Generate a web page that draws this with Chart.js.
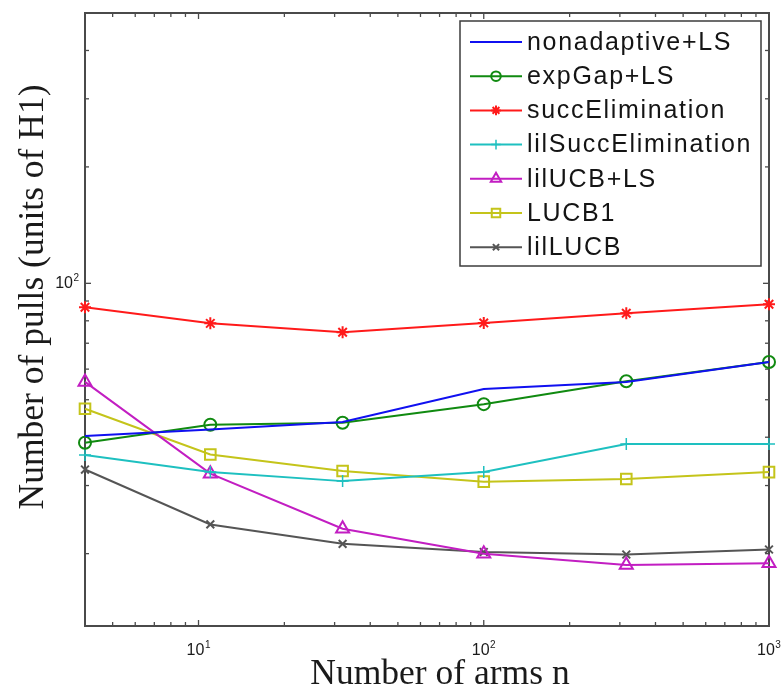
<!DOCTYPE html>
<html><head><meta charset="utf-8">
<script src="https://cdn.jsdelivr.net/npm/chart.js@4.4.1/dist/chart.umd.min.js"></script>
<style>html,body{margin:0;padding:0;background:#fff;}#wrap{width:782px;height:694px;}</style>
</head><body><div id="wrap"><canvas id="c" width="782" height="694"></canvas></div>
<script>
// ---- data ----
const arms = [4, 11, 32, 100, 316, 1000];
const nonadaptiveLS      = [40.3, 41.9, 43.8, 53.3, 55.6, 62.6];
const expGapLS           = [38.7, 43.1, 43.6, 48.7, 55.8, 62.6];
const succElimination    = [86.7, 78.8, 74.7, 79.0, 83.7, 88.3];
const lilSuccElimination = [36.0, 32.5, 30.8, 32.5, 38.4, 38.4];
const lilUCBLS           = [55.6, 32.2, 23.2, 20.0, 18.7, 18.9];
const LUCB1              = [47.4, 36.1, 32.7, 30.7, 31.2, 32.5];
const lilLUCB            = [33.0, 23.8, 21.2, 20.2, 19.9, 20.5];
const seriesNames = ['nonadaptive+LS','expGap+LS','succElimination','lilSuccElimination','lilUCB+LS','LUCB1','lilLUCB'];
// tick labels: base and exponent
const xTickValues = [10, 100, 1000];
const xTickExps   = ['1', '2', '3'];
const yTickValues = [100];
const yTickExps   = ['2'];
const xRange = [4, 1000];
const yRange = [13, 500];
const xTitle = 'Number of arms n';
const yTitle = 'Number of pulls (units of H1)';

const seriesValues = [nonadaptiveLS, expGapLS, succElimination, lilSuccElimination, lilUCBLS, LUCB1, lilLUCB];
const styles = [
  {color:'#1010f0', pointStyle:'circle', r:0, bw:2},
  {color:'#108a10', pointStyle:'circle', r:6, bw:2},
  {color:'#ff1a1a', pointStyle:'star', r:6, bw:2},
  {color:'#1ec0c0', pointStyle:'cross', r:6, bw:1.5},
  {color:'#c21ec2', pointStyle:'triangle', r:7.5, bw:2},
  {color:'#c4c41a', pointStyle:'rect', r:7.5, bw:2},
  {color:'#555555', pointStyle:'crossRot', r:5.5, bw:2}
];

const datasets = seriesNames.map((name, i) => ({
  label: name,
  data: arms.map((n, k) => ({x: n, y: seriesValues[i][k]})),
  borderColor: styles[i].color,
  borderWidth: 2,
  pointStyle: styles[i].pointStyle,
  pointRadius: styles[i].r,
  pointHoverRadius: styles[i].r,
  pointBorderColor: styles[i].color,
  pointBackgroundColor: 'rgba(0,0,0,0)',
  pointBorderWidth: styles[i].bw,
  tension: 0,
  fill: false,
  clip: false
}));

function isNice(v){
  const e = Math.pow(10, Math.floor(Math.log10(v) + 1e-9));
  const m = v / e;
  return Math.abs(m - Math.round(m)) < 1e-6;
}
function isMajor(v){ const l = Math.log10(v); return Math.abs(l - Math.round(l)) < 1e-9; }

const SANS = '"Liberation Sans", Arial, sans-serif';
function powLabel(ctx, exp, px, baseY, align){
  ctx.font = '16px ' + SANS;
  const w1 = ctx.measureText('10').width;
  ctx.font = '10px ' + SANS;
  const w2 = ctx.measureText(exp).width;
  const total = w1 + w2 + 0.5;
  const start = align === 'right' ? px - total : px - total / 2;
  ctx.textAlign = 'left';
  ctx.textBaseline = 'alphabetic';
  ctx.font = '16px ' + SANS;
  ctx.fillText('10', start, baseY);
  ctx.font = '10px ' + SANS;
  ctx.fillText(exp, start + w1 + 0.5, baseY - 7);
}

const framePlugin = {
  id: 'frame',
  beforeDatasetsDraw(chart){
    const {ctx, chartArea: a, scales: {x, y}} = chart;
    ctx.save();
    ctx.strokeStyle = '#4a4a4a';
    ctx.lineWidth = 1.3;
    const seg = (x1,y1,x2,y2)=>{ctx.beginPath();ctx.moveTo(x1,y1);ctx.lineTo(x2,y2);ctx.stroke();};
    x.ticks.forEach(t => {
      if (!isNice(t.value) || t.value <= xRange[0] || t.value >= xRange[1]) return;
      const px = x.getPixelForValue(t.value);
      const L = isMajor(t.value) ? 6 : 4;
      seg(px, a.bottom, px, a.bottom - L);
      seg(px, a.top, px, a.top + L);
    });
    y.ticks.forEach(t => {
      if (!isNice(t.value) || t.value <= yRange[0] || t.value >= yRange[1]) return;
      const py = y.getPixelForValue(t.value);
      const L = isMajor(t.value) ? 6 : 4;
      seg(a.left, py, a.left + L, py);
      seg(a.right, py, a.right - L, py);
    });
    ctx.lineWidth = 2;
    ctx.strokeRect(a.left, a.top, a.right - a.left, a.bottom - a.top);
    ctx.restore();
  },
  afterDraw(chart){
    const {ctx, chartArea: a, scales: {x, y}} = chart;
    ctx.save();
    ctx.fillStyle = '#1a1a1a';
    xTickValues.forEach((v, i) => powLabel(ctx, xTickExps[i], x.getPixelForValue(v), 655, 'center'));
    yTickValues.forEach((v, i) => powLabel(ctx, yTickExps[i], a.left - 6, y.getPixelForValue(v) + 5, 'right'));
    ctx.font = '35.5px "Liberation Serif", "DejaVu Serif", serif';
    ctx.textAlign = 'center';
    ctx.textBaseline = 'alphabetic';
    ctx.fillText(xTitle, 440, 684);
    ctx.translate(43, 297);
    ctx.rotate(-Math.PI/2);
    ctx.fillText(yTitle, 0, 0);
    ctx.restore();
  }
};

function drawMarker(ctx, style, r, x, y){
  if (!r) return;
  if (Chart.helpers && Chart.helpers.drawPoint) {
    Chart.helpers.drawPoint(ctx, {pointStyle: style, radius: r, rotation: 0, borderWidth: 1}, x, y);
  }
}

const legendPlugin = {
  id: 'boxLegend',
  afterDatasetsDraw(chart){
    const ctx = chart.ctx;
    const bx = 460, by = 21, bw = 301, bh = 245;
    ctx.save();
    ctx.fillStyle = '#ffffff';
    ctx.fillRect(bx, by, bw, bh);
    ctx.strokeStyle = '#3c3c3c';
    ctx.lineWidth = 1.5;
    ctx.strokeRect(bx, by, bw, bh);
    ctx.font = '25px ' + SANS;
    try { ctx.letterSpacing = '1.7px'; } catch(e) {}
    ctx.textBaseline = 'middle';
    ctx.textAlign = 'left';
    chart.data.datasets.forEach((ds, i) => {
      const yy = 42 + i * 34.2;
      ctx.strokeStyle = ds.borderColor;
      ctx.lineWidth = 2;
      ctx.beginPath(); ctx.moveTo(470, yy); ctx.lineTo(522, yy); ctx.stroke();
      ctx.fillStyle = 'rgba(0,0,0,0)';
      ctx.lineWidth = ds.pointBorderWidth;
      drawMarker(ctx, ds.pointStyle, ds.pointRadius ? ds.pointRadius * 0.8 : 0, 496, yy);
      ctx.fillStyle = '#141414';
      ctx.fillText(ds.label, 527, yy + 1);
    });
    ctx.restore();
  }
};

new Chart(document.getElementById('c'), {
  type: 'line',
  data: {datasets},
  options: {
    responsive: false,
    animation: false,
    events: [],
    layout: {padding: {top: 13, right: 13, left: 0, bottom: 0}},
    plugins: {legend: {display: false}, tooltip: {enabled: false}, title: {display: false}},
    scales: {
      x: {
        type: 'logarithmic', min: xRange[0], max: xRange[1],
        grid: {display: false, drawTicks: false},
        border: {display: false},
        title: {display: false},
        ticks: {display: false, autoSkip: false},
        afterFit(s){ s.height = 68; s.paddingLeft = 0; s.paddingRight = 0; }
      },
      y: {
        type: 'logarithmic', min: yRange[0], max: yRange[1],
        grid: {display: false, drawTicks: false},
        border: {display: false},
        title: {display: false},
        ticks: {display: false, autoSkip: false},
        afterFit(s){ s.width = 85; s.paddingTop = 0; s.paddingBottom = 0; }
      }
    }
  },
  plugins: [framePlugin, legendPlugin]
});
</script></body></html>
